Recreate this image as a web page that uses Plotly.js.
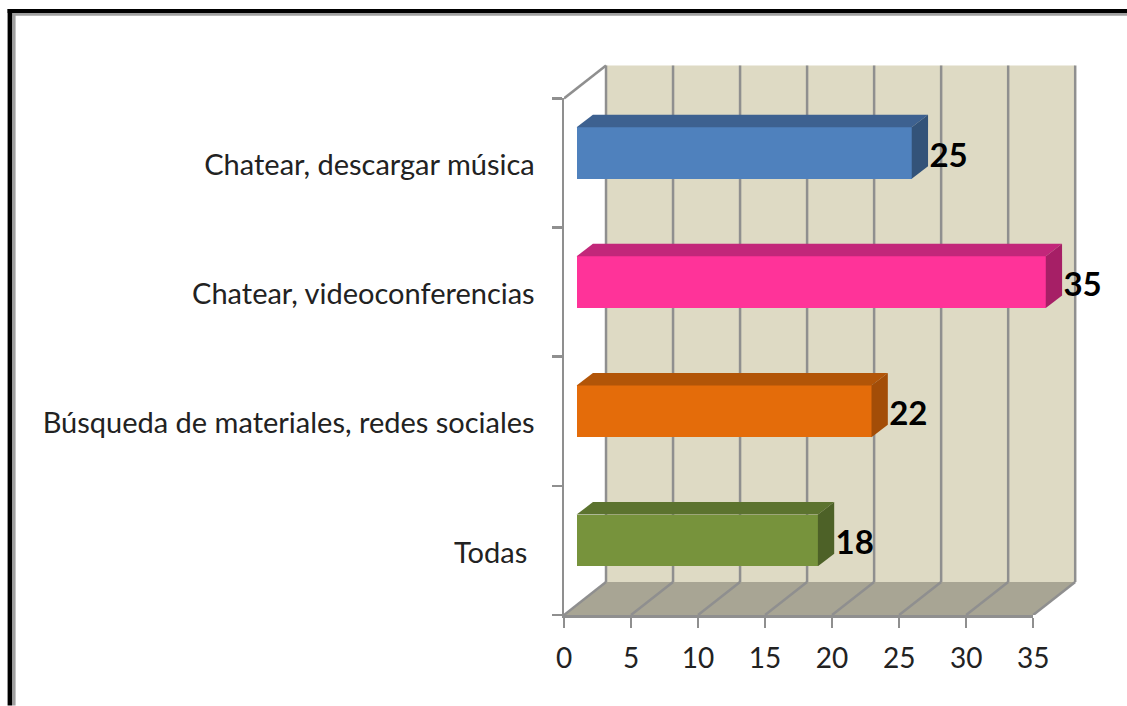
<!DOCTYPE html>
<html>
<head>
<meta charset="utf-8">
<script src="https://cdn.plot.ly/plotly-3.0.1.min.js"></script>
<style>html,body{margin:0;padding:0;background:#fff;overflow:hidden}#chart{width:1127px;height:706px}</style>
</head>
<body>
<div id="chart"></div>
<script>
// Data, bottom row first
const categories = ['Todas\u00a0', 'Búsqueda de materiales, redes sociales', 'Chatear, videoconferencias', 'Chatear, descargar música'];
const values = [18, 22, 35, 25];
const frontColors = ['#77933C', '#E46C0A', '#FF3399', '#4F81BD'];
const topColors = ['#5C732F', '#B25508', '#C2277A', '#3D6190'];
const sideColors = ['#4D6127', '#A34D07', '#A61F66', '#335379'];
const xTicks = [0, 5, 10, 15, 20, 25, 30, 35];

// Layout in pixels
const W = 1127, H = 706;
const mL = 564.2, mR = 27, mT = 40, mB = 90.5;
const pxPerX = 13.4, pxPerY = 129.25;
const plotW = W - mL - mR, plotH = H - mT - mB;
// Oblique projection, in axis units
const wallDX = 42 / pxPerX, wallDY = 33 / pxPerY;
const gapDX = 12.6 / pxPerX, gapDY = 10 / pxPerY;
const barDX = 16.3 / pxPerX, barDY = 12.5 / pxPerY;
const barH = 0.4;
const gridColor = '#8F8F8F', gridWidth = 2.5;

const shapes = [];
const px = v => (v - mL) / plotW, py = v => (H - mB - v) / plotH;
const poly = pts => 'M' + pts.map(p => p.join(',')).join('L') + 'Z';
// back wall and floor
shapes.push({type:'path', xref:'x', yref:'y', layer:'below', line:{width:0}, fillcolor:'#DEDAC4',
  path: poly([[wallDX,wallDY],[35+wallDX,wallDY],[35+wallDX,4+wallDY],[wallDX,4+wallDY]])});
shapes.push({type:'path', xref:'x', yref:'y', layer:'below', line:{width:0}, fillcolor:'#A8A594',
  path: poly([[0,0],[35,0],[35+wallDX,wallDY],[wallDX,wallDY]])});
const gl = (x0,y0,x1,y1) => shapes.push({type:'line', xref:'x', yref:'y', layer:'below', x0, y0, x1, y1, line:{color:gridColor, width:gridWidth}});
xTicks.forEach(t => {
  gl(t, 0, t + wallDX, wallDY);
  gl(t + wallDX, wallDY, t + wallDX, 4 + wallDY);
});
gl(0, 4, wallDX, 4 + wallDY);
// picture frame
const frame = (x0,y0,x1,y1,c) => shapes.push({type:'rect', xref:'paper', yref:'paper', x0:px(x0), x1:px(x1), y0:py(y0), y1:py(y1), line:{width:0}, fillcolor:c});
frame(12.5, 13, 16, 706, '#A0A0A0');
frame(12.5, 13, 1127, 15.7, '#A0A0A0');
frame(8, 9, 12.5, 706, '#000000');
frame(8, 9, 1127, 13, '#000000');

const traces = [];
const yFront = categories.map((c, i) => i + 0.5 + gapDY);
traces.push({type:'bar', orientation:'h', x:values, y:yFront, base:values.map(() => gapDX), width:barH,
  marker:{color:frontColors, line:{width:0}}, hoverinfo:'skip', showlegend:false, xaxis:'x', yaxis:'y'});
values.forEach((v, i) => {
  const x0 = gapDX, x1 = gapDX + v, yB = yFront[i] - barH / 2, yT = yFront[i] + barH / 2;
  traces.push({type:'scatter', mode:'lines', fill:'toself', fillcolor:topColors[i], line:{width:0}, hoverinfo:'skip', showlegend:false,
    x:[x0, x1, x1 + barDX, x0 + barDX, x0], y:[yT, yT, yT + barDY, yT + barDY, yT]});
  traces.push({type:'scatter', mode:'lines', fill:'toself', fillcolor:sideColors[i], line:{width:0}, hoverinfo:'skip', showlegend:false,
    x:[x1, x1 + barDX, x1 + barDX, x1, x1], y:[yB, yB + barDY, yT + barDY, yT, yB]});
});
traces.push({type:'scatter', mode:'text', hoverinfo:'skip', showlegend:false, cliponaxis:false,
  x:values.map(v => gapDX + v + barDX + 0.1), y:yFront.map(y => y - 0.042), text:values.map(String), textposition:'middle right',
  textfont:{family:'Lato, sans-serif', size:33, color:'#000', weight:700}});

const axisStyle = {showgrid:false, zeroline:false, showline:true, linecolor:gridColor, linewidth:gridWidth,
  ticks:'outside', ticklen:10, tickwidth:gridWidth, tickcolor:gridColor, fixedrange:true};
const layout = {
  width:W, height:H, margin:{l:mL, r:mR, t:mT, b:mB, pad:0}, autosize:false,
  paper_bgcolor:'#fff', plot_bgcolor:'rgba(0,0,0,0)', showlegend:false, bargap:0, barmode:'overlay',
  font:{family:'Lato, sans-serif', color:'#222'},
  xaxis:{range:[0, plotW / pxPerX], visible:false, fixedrange:true, anchor:'y'},
  yaxis:{range:[0, plotH / pxPerY], domain:[0, 1], visible:false, fixedrange:true, anchor:'x'},
  xaxis2:Object.assign({}, axisStyle, {range:[0, 35], domain:[0, 35 * pxPerX / plotW], anchor:'y2', tickmode:'array', tickvals:xTicks, ticktext:xTicks.map(String),
    tickfont:{size:28, color:'#222'}, ticklabelstandoff:7}),
  yaxis2:Object.assign({}, axisStyle, {type:'category', categoryorder:'array', categoryarray:categories, range:[-0.5, 3.5], tickmode:'array',
    tickvals:categories, ticktext:categories,
    domain:[0, 4 * pxPerY / plotH], anchor:'x2', tickson:'boundaries',
    tickfont:{size:29, color:'#222'}, ticklabelstandoff:21, ticklabelshift:2}),
  shapes
};
// carries the visible axes
traces.push({type:'scatter', mode:'none', x:values, y:categories, xaxis:'x2', yaxis:'y2', hoverinfo:'skip', showlegend:false});
Plotly.newPlot('chart', traces, layout, {displayModeBar:false, staticPlot:true});
</script>
</body>
</html>
